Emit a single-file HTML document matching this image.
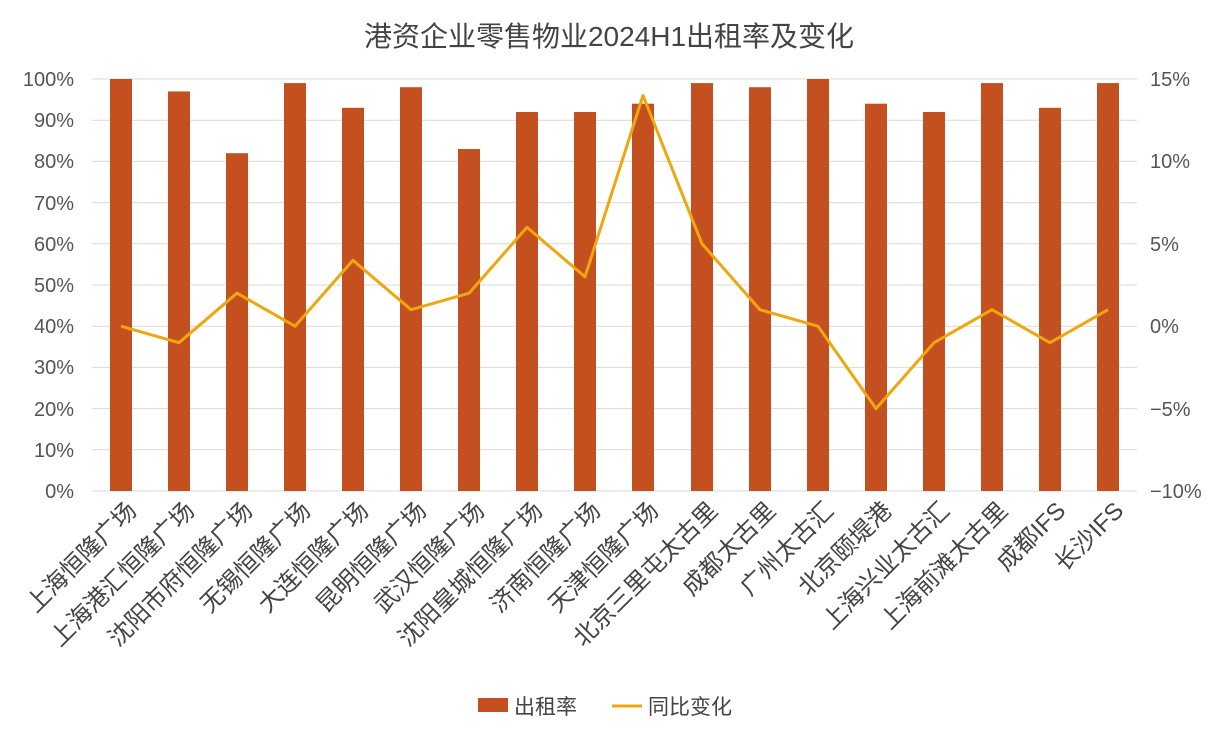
<!DOCTYPE html>
<html><head><meta charset="utf-8"><style>body{margin:0;background:#fff}</style></head>
<body>
<svg width="1219" height="732" xmlns="http://www.w3.org/2000/svg" font-family="'Liberation Sans','Noto Sans CJK SC',sans-serif">
<rect width="1219" height="732" fill="#fff"/>
<text x="609" y="46" text-anchor="middle" font-size="28" fill="#444">港资企业零售物业2024H1出租率及变化</text>
<g stroke="#d9d9d9" stroke-width="1">
<line x1="92" x2="1137" y1="491" y2="491"/><line x1="92" x2="1137" y1="449.8" y2="449.8"/><line x1="92" x2="1137" y1="408.6" y2="408.6"/><line x1="92" x2="1137" y1="367.4" y2="367.4"/><line x1="92" x2="1137" y1="326.2" y2="326.2"/><line x1="92" x2="1137" y1="285" y2="285"/><line x1="92" x2="1137" y1="243.8" y2="243.8"/><line x1="92" x2="1137" y1="202.6" y2="202.6"/><line x1="92" x2="1137" y1="161.4" y2="161.4"/><line x1="92" x2="1137" y1="120.2" y2="120.2"/><line x1="92" x2="1137" y1="79" y2="79"/>
</g>
<g fill="#C5501F">
<rect x="110" y="79" width="22" height="412"/>
<rect x="168" y="91.4" width="22" height="399.6"/>
<rect x="226" y="153.2" width="22" height="337.8"/>
<rect x="284" y="83.1" width="22" height="407.9"/>
<rect x="342" y="107.8" width="22" height="383.2"/>
<rect x="400" y="87.2" width="22" height="403.8"/>
<rect x="458" y="149" width="22" height="342"/>
<rect x="516" y="112" width="22" height="379"/>
<rect x="574" y="112" width="22" height="379"/>
<rect x="632" y="103.7" width="22" height="387.3"/>
<rect x="691" y="83.1" width="22" height="407.9"/>
<rect x="749" y="87.2" width="22" height="403.8"/>
<rect x="807" y="79" width="22" height="412"/>
<rect x="865" y="103.7" width="22" height="387.3"/>
<rect x="923" y="112" width="22" height="379"/>
<rect x="981" y="83.1" width="22" height="407.9"/>
<rect x="1039" y="107.8" width="22" height="383.2"/>
<rect x="1097" y="83.1" width="22" height="407.9"/>
</g>
<polyline fill="none" stroke="#EFA60F" stroke-width="3" stroke-linejoin="round" points="121,326.2 179,342.7 237,293.2 295,326.2 353,260.3 411,309.7 469,293.2 527,227.3 585,276.8 643,95.5 702,243.8 760,309.7 818,326.2 876,408.6 934,342.7 992,309.7 1050,342.7 1108,309.7"/>
<g font-size="20" fill="#555" text-anchor="end">
<text x="74" y="498">0%</text><text x="74" y="457">10%</text><text x="74" y="416">20%</text><text x="74" y="374">30%</text><text x="74" y="333">40%</text><text x="74" y="292">50%</text><text x="74" y="251">60%</text><text x="74" y="210">70%</text><text x="74" y="168">80%</text><text x="74" y="127">90%</text><text x="74" y="86">100%</text>
</g>
<g font-size="20" fill="#555" text-anchor="start">
<text x="1150" y="498">−10%</text><text x="1150" y="416">−5%</text><text x="1150" y="333">0%</text><text x="1150" y="251">5%</text><text x="1150" y="168">10%</text><text x="1150" y="86">15%</text>
</g>
<g font-size="24" fill="#444" text-anchor="end">
<text transform="translate(138,512) rotate(-45)">上海恒隆广场</text>
<text transform="translate(196,512) rotate(-45)">上海港汇恒隆广场</text>
<text transform="translate(254,512) rotate(-45)">沈阳市府恒隆广场</text>
<text transform="translate(312,512) rotate(-45)">无锡恒隆广场</text>
<text transform="translate(370,512) rotate(-45)">大连恒隆广场</text>
<text transform="translate(428,512) rotate(-45)">昆明恒隆广场</text>
<text transform="translate(486,512) rotate(-45)">武汉恒隆广场</text>
<text transform="translate(544,512) rotate(-45)">沈阳皇城恒隆广场</text>
<text transform="translate(602,512) rotate(-45)">济南恒隆广场</text>
<text transform="translate(660,512) rotate(-45)">天津恒隆广场</text>
<text transform="translate(719,512) rotate(-45)">北京三里屯太古里</text>
<text transform="translate(777,512) rotate(-45)">成都太古里</text>
<text transform="translate(835,512) rotate(-45)">广州太古汇</text>
<text transform="translate(893,512) rotate(-45)">北京颐堤港</text>
<text transform="translate(951,512) rotate(-45)">上海兴业太古汇</text>
<text transform="translate(1009,512) rotate(-45)">上海前滩太古里</text>
<text transform="translate(1067,512) rotate(-45)">成都IFS</text>
<text transform="translate(1125,512) rotate(-45)">长沙IFS</text>
</g>
<rect x="478" y="698" width="30" height="14" fill="#C5501F"/>
<text x="514" y="714" font-size="21" fill="#444">出租率</text>
<line x1="612" y1="706" x2="642" y2="706" stroke="#EFA60F" stroke-width="3"/>
<text x="648" y="714" font-size="21" fill="#444">同比变化</text>
</svg>
</body></html>
